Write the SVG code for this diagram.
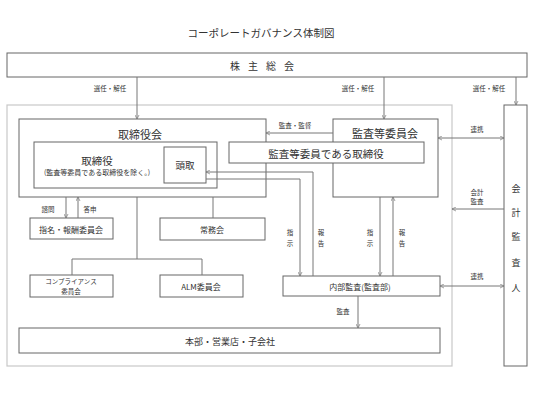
<svg xmlns="http://www.w3.org/2000/svg" width="533" height="400" viewBox="0 0 533 400">
<style>
text{font-family:"Noto Sans CJK JP","Noto Sans",sans-serif;fill:#333;text-anchor:middle;dominant-baseline:central}
.box{fill:#fff;stroke:#666;stroke-width:1}
.outer{fill:none;stroke:#c8c8c8;stroke-width:1.2}
.ln{fill:none;stroke:#777;stroke-width:1}
.s{font-size:6.5px}
.m{font-size:9px}
.l{font-size:11px}
</style>
<defs>
<marker id="ah" viewBox="0 0 10 10" refX="9" refY="5" markerWidth="5" markerHeight="5" orient="auto-start-reverse" markerUnits="userSpaceOnUse">
<path d="M1,1 L9,5 L1,9" fill="none" stroke="#777" stroke-width="1.4"/>
</marker>
</defs>
<text x="261" y="32" style="font-size:10.5px">コーポレートガバナンス体制図</text>
<g id="outer"><rect class="outer" x="7" y="105" width="445" height="261"/></g>
<g id="kabunushi"><rect class="box" x="7" y="53" width="520" height="24"/><text x="266" y="65" style="font-size:10px;letter-spacing:8px">株主総会</text></g>
<g id="torishimariyakukai"><rect class="box" x="19" y="119" width="247" height="78"/><text class="l" x="140" y="134">取締役会</text></g>
<g id="torishimariyaku"><rect class="box" x="34" y="142" width="183" height="46"/><text class="l" x="97" y="160" style="font-size:10.5px">取締役</text><text class="s" x="97" y="172" style="font-size:7px">(監査等委員である取締役を除く。)</text></g>
<g id="todori"><rect class="box" x="164" y="147" width="42" height="36"/><text class="m" x="185" y="165" style="font-size:9.5px">頭取</text></g>
<g id="kansaiinkai"><rect class="box" x="333" y="119" width="105" height="78"/><text class="l" x="385" y="133">監査等委員会</text></g>
<g id="kansatori"><rect class="box" x="229" y="142" width="195" height="21"/><text class="l" x="326" y="153" style="font-size:10.5px">監査等委員である取締役</text></g>
<g id="shimei"><rect class="box" x="30" y="218" width="83" height="21"/><text class="m" x="71" y="229" style="font-size:8px">指名・報酬委員会</text></g>
<g id="jomukai"><rect class="box" x="160" y="218" width="105" height="22"/><text class="m" x="212" y="229" style="font-size:8px">常務会</text></g>
<g id="compliance"><rect class="box" x="30" y="275" width="83" height="22"/><text class="s" x="71" y="281" style="font-size:6.5px">コンプライアンス</text><text class="s" x="71" y="291" style="font-size:6.5px">委員会</text></g>
<g id="alm"><rect class="box" x="160" y="275" width="83" height="22"/><text class="m" x="201" y="286" style="font-size:8px">ALM委員会</text></g>
<g id="naibukansa"><rect class="box" x="283" y="276" width="157" height="20"/><text class="m" x="360" y="286" style="font-size:8px">内部監査(監査部)</text></g>
<g id="honbu"><rect class="box" x="19" y="328" width="421" height="25"/><text class="m" x="230" y="341" style="font-size:9px">本部・営業店・子会社</text></g>
<g id="kaikei"><rect class="box" x="504" y="105" width="23" height="261"/>
<text class="m" x="516" y="188">会</text><text class="m" x="516" y="212">計</text><text class="m" x="516" y="236">監</text><text class="m" x="516" y="262">査</text><text class="m" x="516" y="287">人</text></g>
<g id="connectors">
<line class="ln" x1="137" y1="77" x2="137" y2="119" marker-end="url(#ah)"/>
<line class="ln" x1="384" y1="77" x2="384" y2="119" marker-end="url(#ah)"/>
<line class="ln" x1="516" y1="77" x2="516" y2="105" marker-end="url(#ah)"/>
<line class="ln" x1="333" y1="133" x2="266" y2="133" marker-end="url(#ah)"/>
<line class="ln" x1="438" y1="138" x2="504" y2="138" marker-start="url(#ah)" marker-end="url(#ah)"/>
<line class="ln" x1="504" y1="209" x2="452" y2="209" marker-end="url(#ah)"/>
<line class="ln" x1="440" y1="286" x2="504" y2="286" marker-start="url(#ah)" marker-end="url(#ah)"/>
<polyline class="ln" points="313,276 313,172 206,172" marker-end="url(#ah)"/>
<polyline class="ln" points="206,179 300,179 300,276" marker-end="url(#ah)"/>
<line class="ln" x1="380" y1="197" x2="380" y2="276" marker-end="url(#ah)"/>
<line class="ln" x1="393" y1="276" x2="393" y2="197" marker-end="url(#ah)"/>
<line class="ln" x1="358" y1="296" x2="358" y2="328" marker-end="url(#ah)"/>
<line class="ln" x1="66" y1="197" x2="66" y2="218" marker-end="url(#ah)"/>
<line class="ln" x1="78" y1="218" x2="78" y2="197" marker-end="url(#ah)"/>
<line class="ln" x1="213" y1="197" x2="213" y2="218"/>
<polyline class="ln" points="137,197 137,259"/>
<polyline class="ln" points="72,275 72,259 202,259 202,275"/>
</g>
<g id="labels">
<text class="s" x="110" y="88">選任・解任</text>
<text class="s" x="358" y="88">選任・解任</text>
<text class="s" x="489" y="88">選任・解任</text>
<text class="s" x="295" y="125">監査・監督</text>
<text class="s" x="477" y="129">連携</text>
<text class="s" x="477" y="192">会計</text>
<text class="s" x="477" y="201">監査</text>
<text class="s" x="477" y="276">連携</text>
<text class="s" x="48" y="209">諮問</text>
<text class="s" x="90" y="209">答申</text>
<text class="s" x="343" y="311">監査</text>
<text class="s" x="290" y="232">指</text><text class="s" x="290" y="243">示</text>
<text class="s" x="321" y="232">報</text><text class="s" x="321" y="243">告</text>
<text class="s" x="370" y="232">指</text><text class="s" x="370" y="243">示</text>
<text class="s" x="402" y="232">報</text><text class="s" x="402" y="243">告</text>
</g>
</svg>
